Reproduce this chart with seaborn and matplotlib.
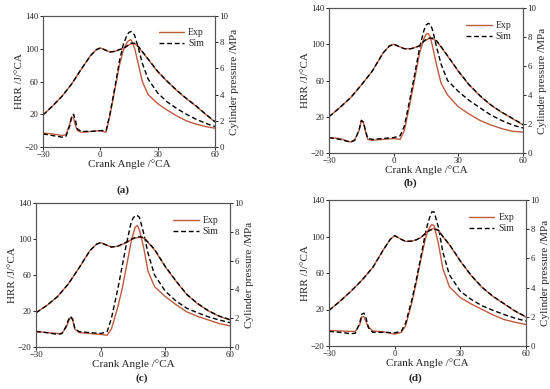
import matplotlib
matplotlib.use("Agg")
import matplotlib.pyplot as plt
import seaborn as sns
from matplotlib.lines import Line2D

# ---------------- data ----------------
ca_h = [-30, -25, -20, -18, -16, -15, -14, -13, -12, -10, -5, 0, 3, 5, 8, 10, 12, 14, 15, 16,
        17, 18, 20, 22, 25, 30, 35, 40, 45, 50, 55, 60]
ca_p = [-30, -25, -20, -15, -10, -5, -2, 0, 3, 5, 8, 10, 12, 14, 16, 18, 20, 22, 25, 30,
        35, 40, 45, 50, 55, 60]

# panel (a)
hrr_exp_a = [-3, -4, -6, -5, 8, 17, 15, 6, 0, -2, -1, 0, -2, 18, 55, 80, 98, 108, 110, 111,
             106, 100, 80, 60, 44, 33, 25, 18, 12, 8, 5, 3]
hrr_sim_a = [-4, -6, -8, -7, 6, 17, 20, 12, 2, -1, -1, 0, 0, 20, 58, 85, 105, 117, 120, 121,
             120, 116, 100, 82, 63, 46, 35, 27, 20, 14, 9, 5]
p_exp_a = [2.44, 3.13, 3.88, 4.81, 5.94, 7.00, 7.44, 7.56, 7.38, 7.25, 7.31, 7.44, 7.50, 7.69,
           7.88, 7.88, 7.63, 7.25, 6.69, 5.75, 5.00, 4.31, 3.69, 3.13, 2.50, 1.91]
p_sim_a = [2.44, 3.13, 3.88, 4.81, 5.94, 7.00, 7.44, 7.56, 7.38, 7.25, 7.31, 7.44, 7.52, 7.72,
           7.92, 7.92, 7.66, 7.28, 6.72, 5.78, 5.02, 4.33, 3.71, 3.15, 2.52, 1.93]

# panel (b)
hrr_exp_b = [-3, -4, -8, -5, 5, 16, 13, 3, -5, -6, -5, -4, -5, 5, 40, 65, 90, 106, 111, 112,
             108, 98, 76, 57, 44, 31, 23, 16, 11, 7, 4, 3]
hrr_sim_b = [-3, -5, -8, -6, 6, 16, 14, 4, -4, -5, -4, -3, -1, 10, 45, 70, 96, 115, 121, 123,
             122, 116, 96, 78, 60, 48, 38, 30, 22, 16, 11, 7.6]
p_exp_b = [2.50, 3.13, 3.81, 4.69, 5.63, 6.88, 7.38, 7.50, 7.31, 7.19, 7.19, 7.28, 7.38, 7.69,
           7.88, 7.88, 7.69, 7.31, 6.69, 5.63, 4.69, 3.94, 3.31, 2.81, 2.38, 1.94]
p_sim_b = [2.50, 3.13, 3.81, 4.69, 5.63, 6.88, 7.38, 7.50, 7.31, 7.19, 7.19, 7.28, 7.40, 7.72,
           7.92, 7.92, 7.72, 7.33, 6.71, 5.65, 4.71, 3.96, 3.33, 2.83, 2.40, 1.96]

# panel (c)
hrr_exp_c = [-2.5, -4, -5, -5, 2, 8, 13, 10, 0, -4, -5, -6, -7, 0, 25, 45, 70, 95, 105, 113,
             115, 110, 90, 64, 47, 36, 27, 19, 14, 10, 6, 3.5]
hrr_sim_c = [-3, -4, -6, -5, 3, 10, 14, 11, 1, -3, -4, -5, -3, 12, 45, 70, 95, 117, 123, 126,
             126, 124, 106, 84, 60, 42, 31, 23, 18, 13.5, 10, 7]
p_exp_c = [2.38, 2.88, 3.50, 4.38, 5.50, 6.69, 7.13, 7.25, 7.06, 6.94, 7.00, 7.13, 7.25, 7.44,
           7.56, 7.63, 7.56, 7.25, 6.75, 5.56, 4.56, 3.63, 3.00, 2.50, 2.13, 1.88]
p_sim_c = [2.38, 2.88, 3.50, 4.38, 5.50, 6.69, 7.13, 7.25, 7.06, 6.94, 7.00, 7.15, 7.28, 7.48,
           7.60, 7.66, 7.59, 7.28, 6.78, 5.59, 4.58, 3.65, 3.02, 2.52, 2.15, 1.90]

# panel (d)
hrr_exp_d = [-3, -3.5, -4, -4, 3, 12, 12, 6, 1, -3.5, -4.5, -7, -5, 2, 29, 51, 75, 97, 105, 110,
             113, 112, 92, 65, 45, 33, 26, 20, 14, 9, 6, 3.6]
hrr_sim_d = [-4, -5, -6.5, -6, 5, 15, 16, 10, 0, -5, -5, -5.5, -4, 5, 32, 54, 78, 103, 113, 121,
             127, 127, 110, 83, 58, 40, 31, 24, 19, 14.5, 10.5, 7.3]
p_exp_d = [2.44, 3.06, 3.75, 4.50, 5.38, 6.63, 7.31, 7.56, 7.31, 7.16, 7.19, 7.28, 7.44, 7.69,
           7.94, 8.06, 7.94, 7.50, 6.94, 5.81, 4.81, 4.00, 3.38, 2.88, 2.38, 1.98]
p_sim_d = [2.44, 3.06, 3.75, 4.50, 5.38, 6.63, 7.31, 7.56, 7.31, 7.16, 7.19, 7.28, 7.44, 7.70,
           7.92, 8.02, 7.92, 7.50, 6.96, 5.83, 4.83, 4.02, 3.40, 2.90, 2.40, 2.00]

x_ticks = [-30, 0, 30, 60]
hrr_ticks = [-20, 20, 60, 100, 140]
p_ticks = [0, 2, 4, 6, 8, 10]
panel_labels = ["(a)", "(b)", "(c)", "(d)"]
legend_labels = ["Exp", "Sim"]

# ---------------- style ----------------
sns.set_style("ticks")
plt.rcParams["font.family"] = ["Liberation Serif", "DejaVu Serif"]
plt.rcParams["axes.linewidth"] = 0.8
plt.rcParams["axes.edgecolor"] = "#444444"

EXP_C = "#BF5B3F"
SIM_C = "black"
SIM_LS = (0, (3.5, 2))

fig = plt.figure(figsize=(5.5, 3.89), dpi=100)

W, H = 550.0, 389.0
boxes = [(43, 215, 16, 147), (329, 523, 8, 153), (36, 230, 203, 347), (329, 526, 200, 346)]
label_pos = [(123, 190), (410, 183), (142, 378), (415, 378)]

panels = [
    (hrr_exp_a, hrr_sim_a, p_exp_a, p_sim_a),
    (hrr_exp_b, hrr_sim_b, p_exp_b, p_sim_b),
    (hrr_exp_c, hrr_sim_c, p_exp_c, p_sim_c),
    (hrr_exp_d, hrr_sim_d, p_exp_d, p_sim_d),
]

for (l, r, t, b), (he, hs, pe, ps), lab, (lx, ly) in zip(boxes, panels, panel_labels, label_pos):
    ax = fig.add_axes([l / W, 1 - b / H, (r - l) / W, (b - t) / H])
    ax2 = ax.twinx()
    sns.lineplot(x=ca_h, y=he, ax=ax, color=EXP_C, lw=1.0, sort=False)
    sns.lineplot(x=ca_h, y=hs, ax=ax, color=SIM_C, lw=1.0, linestyle=SIM_LS, sort=False)
    sns.lineplot(x=ca_p, y=pe, ax=ax2, color=EXP_C, lw=1.0, sort=False)
    sns.lineplot(x=ca_p, y=ps, ax=ax2, color=SIM_C, lw=1.0, linestyle=SIM_LS, sort=False)

    ax.set_xlim(-30, 60)
    ax.set_ylim(-20, 140)
    ax2.set_ylim(0, 10)
    ax.set_xticks(x_ticks)
    ax.set_yticks(hrr_ticks)
    ax2.set_yticks(p_ticks)
    for a in (ax, ax2):
        a.tick_params(labelsize=6.3, length=2.2, width=0.7, pad=1.0, colors="#222222")
        for s in a.spines.values():
            s.set_visible(True)
            s.set_linewidth(0.8)
            s.set_color("#555555")
    ax.set_xlabel("Crank Angle /°CA", fontsize=8, labelpad=0)
    ax.set_ylabel("HRR /J/°CA", fontsize=8, labelpad=0.5)
    ax2.set_ylabel("Cylinder pressure /MPa", fontsize=8, labelpad=1)

    handles = [Line2D([0], [0], color=EXP_C, lw=1.0),
               Line2D([0], [0], color=SIM_C, lw=1.0, linestyle=SIM_LS)]
    ax2.legend(handles, legend_labels, loc="upper right", frameon=False, fontsize=7,
               handlelength=2.6, handletextpad=0.4, labelspacing=0.2,
               bbox_to_anchor=(0.97, 0.95), borderaxespad=0.2)

    fig.text(lx / W, 1 - ly / H, lab, fontsize=8, fontweight="bold", ha="center", va="center")

fig.savefig("out.png", dpi=100)
